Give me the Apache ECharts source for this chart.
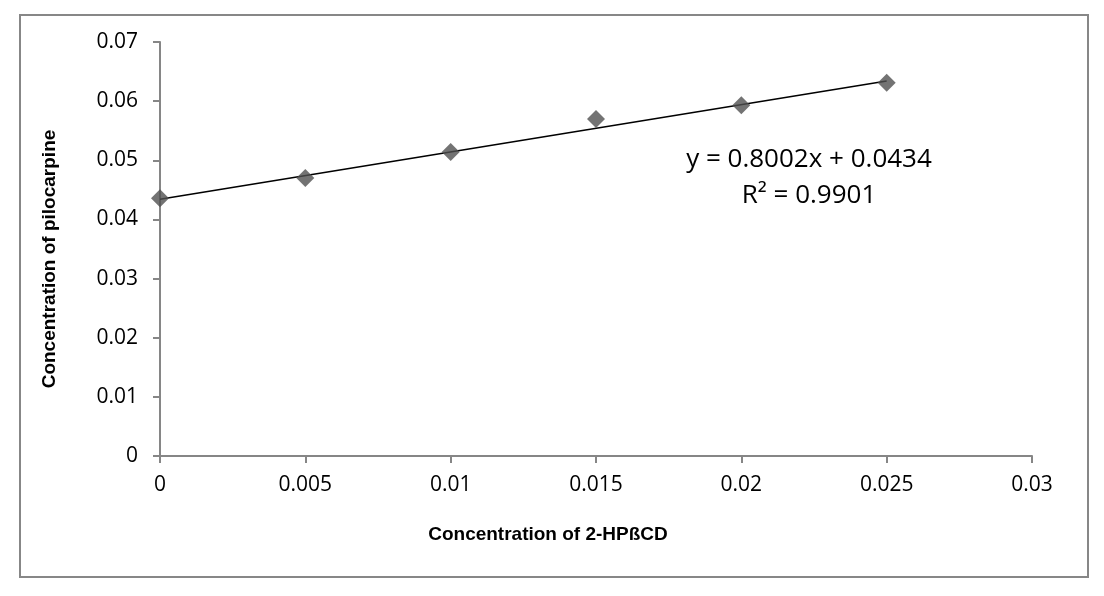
<!DOCTYPE html>
<html>
<head>
<meta charset="utf-8">
<script src="https://cdn.jsdelivr.net/npm/echarts@6/dist/echarts.min.js"></script>
<style>
html,body{margin:0;padding:0;background:#fff;}
#main{width:1104px;height:596px;}
</style>
</head>
<body>
<div id="main"></div>
<script>
const xValues = [0, 0.005, 0.01, 0.015, 0.02, 0.025];
const yValues = [0.0436, 0.0470, 0.0514, 0.0570, 0.0593, 0.0631];
const trendX = [0, 0.025];
const trendY = [0.0434, 0.0634];
const xTicks = [0, 0.005, 0.01, 0.015, 0.02, 0.025, 0.03];
const yTicks = [0, 0.01, 0.02, 0.03, 0.04, 0.05, 0.06, 0.07];
const equationText = 'y = 0.8002x + 0.0434';
const r2Text = 'R² = 0.9901';
const xTitle = 'Concentration of 2-HPßCD';
const yTitle = 'Concentration of pilocarpine';

const chart = echarts.init(document.getElementById('main'));
const axisColor = '#868686';
const tickFont = '"Open Sans", "Noto Sans", sans-serif';
const titleFont = 'bold 19px "Liberation Sans", Arial, sans-serif';

chart.setOption({
  animation: false,
  backgroundColor: '#fff',
  grid: {left: 160, right: 72, top: 42, bottom: 140, containLabel: false},
  xAxis: {
    type: 'value', min: 0, max: 0.03, interval: 0.005,
    axisLine: {show: true, lineStyle: {color: axisColor, width: 2}},
    axisTick: {show: true, length: 7, lineStyle: {color: axisColor, width: 2}},
    axisLabel: {margin: 19, fontFamily: tickFont, fontSize: 21, color: '#000',
      formatter: v => { const s = xTicks.find(t => Math.abs(t - v) < 1e-9); return s === undefined ? '' : String(s); }},
    splitLine: {show: false}
  },
  yAxis: {
    type: 'value', min: 0, max: 0.07, interval: 0.01,
    axisLine: {show: true, lineStyle: {color: axisColor, width: 2}},
    axisTick: {show: true, length: 7, lineStyle: {color: axisColor, width: 2}},
    axisLabel: {margin: 22, fontFamily: tickFont, fontSize: 21, color: '#000',
      formatter: v => { const s = yTicks.find(t => Math.abs(t - v) < 1e-9); return s === undefined ? '' : String(s); }},
    splitLine: {show: false}
  },
  series: [
    {
      type: 'line',
      data: trendX.map((x, i) => [x, trendY[i]]),
      symbol: 'none',
      lineStyle: {color: '#000', width: 1.5},
      z: 2
    },
    {
      type: 'scatter',
      data: xValues.map((x, i) => [x, yValues[i]]),
      symbol: 'diamond',
      symbolSize: 18,
      itemStyle: {color: '#505050'},
      z: 3
    }
  ],
  graphic: [
    {type: 'rect', shape: {x: 20, y: 15, width: 1068, height: 562},
      style: {fill: 'none', stroke: '#878787', lineWidth: 2}, silent: true},
    {type: 'text', x: 548, y: 535, style: {text: xTitle, font: titleFont, fill: '#000', textAlign: 'center', textVerticalAlign: 'middle'}},
    {type: 'text', x: 50, y: 259, rotation: Math.PI / 2, style: {text: yTitle, font: titleFont, fill: '#000', textAlign: 'center', textVerticalAlign: 'middle'}},
    {type: 'text', x: 809, y: 160, style: {text: equationText, font: '26px "Open Sans", "Noto Sans", sans-serif', fill: '#000', textAlign: 'center', textVerticalAlign: 'middle'}},
    {type: 'text', x: 809, y: 196, style: {text: r2Text, font: '26px "Open Sans", "Noto Sans", sans-serif', fill: '#000', textAlign: 'center', textVerticalAlign: 'middle'}}
  ]
});
</script>
</body>
</html>
